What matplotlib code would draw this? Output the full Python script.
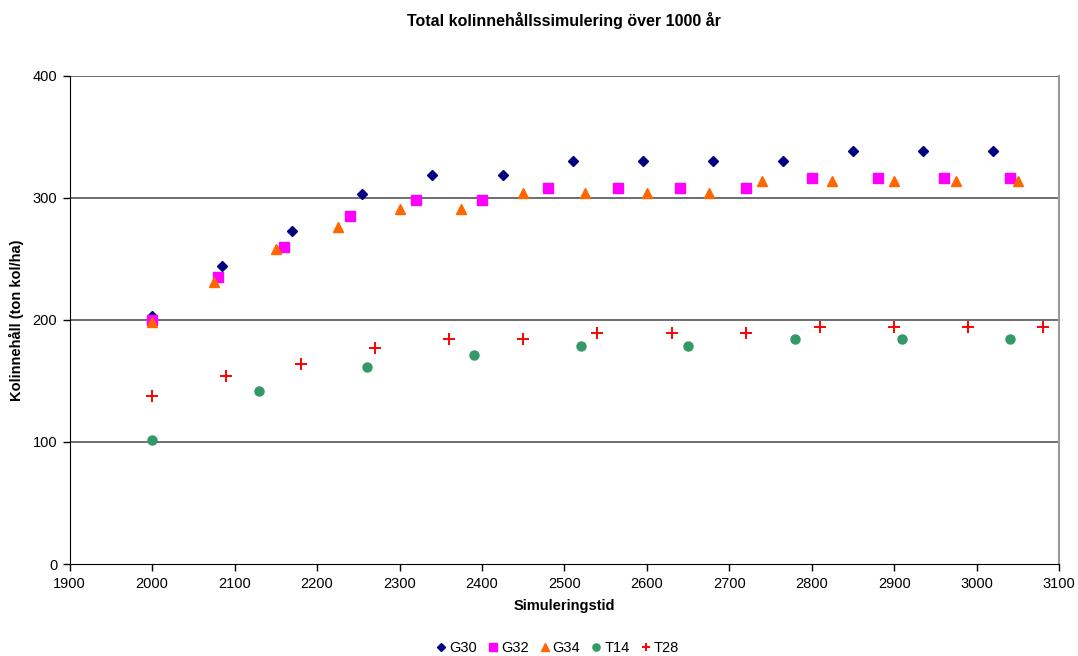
import matplotlib.pyplot as plt

plt.rcParams['font.family'] = ['Liberation Sans', 'DejaVu Sans']

# kolinnehåll per serie (ton kol/ha)
g30_x = [2000, 2085, 2170, 2255, 2340, 2425, 2510, 2595, 2680, 2765, 2850, 2935, 3020]
g30_y = [203, 244, 273, 303, 319, 319, 330, 330, 330, 330, 338, 338, 338]

g32_x = [2000, 2080, 2160, 2240, 2320, 2400, 2480, 2565, 2640, 2720, 2800, 2880, 2960, 3040]
g32_y = [200, 235, 260, 285, 298, 298, 308, 308, 308, 308, 316, 316, 316, 316]

g34_x = [2000, 2075, 2150, 2225, 2300, 2375, 2450, 2525, 2600, 2675, 2740, 2825, 2900, 2975, 3050]
g34_y = [198, 231, 258, 276, 291, 291, 304, 304, 304, 304, 314, 314, 314, 314, 314]

t14_x = [2000, 2130, 2260, 2390, 2520, 2650, 2780, 2910, 3040]
t14_y = [102, 142, 161, 171, 179, 179, 184, 184, 184]

t28_x = [2000, 2090, 2180, 2270, 2360, 2450, 2540, 2630, 2720, 2810, 2900, 2990, 3080]
t28_y = [138, 154, 164, 177, 184, 184, 189, 189, 189, 194, 194, 194, 194]

fig = plt.figure(figsize=(10.78, 6.56), dpi=100)
ax = fig.add_axes([0.0647, 0.1402, 0.9177, 0.7444])

ax.set_xlim(1900, 3100)
ax.set_ylim(0, 400)
ax.set_xticks(range(1900, 3101, 100))
ax.set_yticks(range(0, 401, 100))

for yv in (100, 200, 300, 400):
    ax.axhline(yv, color='#555555', lw=1.2, zorder=1)

ax.plot(g30_x, g30_y, 'D', color='#000080', ms=5.5, mec='#000080', ls='none', label='G30', zorder=3)
ax.plot(g32_x, g32_y, 's', color='#FF00FF', ms=6.5, mec='#FF00FF', ls='none', label='G32', zorder=3)
ax.plot(g34_x, g34_y, '^', color='#FF6600', ms=7.5, mec='#FF6600', ls='none', label='G34', zorder=3)
ax.plot(t14_x, t14_y, 'o', color='#339966', ms=6.5, mec='#339966', ls='none', label='T14', zorder=3)
ax.plot(t28_x, t28_y, '+', color='#FF0000', ms=8, mew=1.4, ls='none', label='T28', zorder=3)

ax.spines['top'].set_visible(False)
ax.spines['right'].set_color('#999999')
ax.spines['right'].set_linewidth(1.5)
ax.spines['left'].set_color('black')
ax.spines['bottom'].set_color('black')
ax.tick_params(direction='out', length=5, width=1, labelsize=10.5, pad=4)

ax.set_title('Total kolinnehållssimulering över 1000 år', fontsize=11.5, fontweight='bold', pad=36)
ax.set_xlabel('Simuleringstid', fontsize=10.5, fontweight='bold', labelpad=6)
ax.set_ylabel('Kolinnehåll (ton kol/ha)', fontsize=10.5, fontweight='bold', labelpad=6)

fig.legend(loc='lower center', bbox_to_anchor=(0.516, -0.018), ncol=5, frameon=False,
           fontsize=10.5, handletextpad=0.05, columnspacing=0.6, handlelength=1.0,
           markerscale=0.8)

fig.savefig('out.png', dpi=100)
